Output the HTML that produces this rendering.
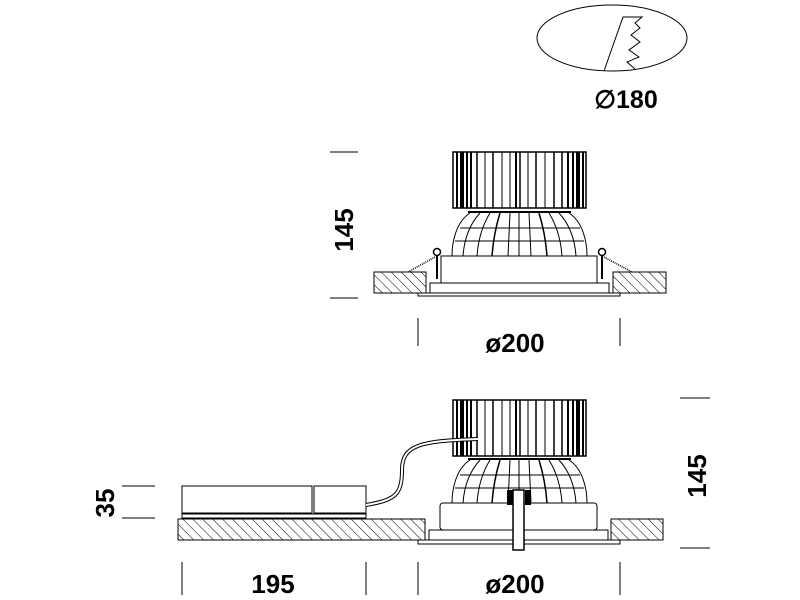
<!DOCTYPE html>
<html><head><style>html,body{margin:0;padding:0;background:#fff}svg{display:block}</style></head>
<body>
<svg width="800" height="600" viewBox="0 0 800 600" xmlns="http://www.w3.org/2000/svg" font-family="Liberation Sans, sans-serif">
<defs>
<pattern id="h" width="7" height="7" patternUnits="userSpaceOnUse" patternTransform="rotate(-45)">
<line x1="0" y1="0" x2="0" y2="7" stroke="#000" stroke-width="1"/>
</pattern>
<g id="sink">
<rect x="453" y="0" width="133" height="56" fill="#fff" stroke="#000" stroke-width="1.5"/>
<g stroke="#000">
<line x1="457" y1="0" x2="457" y2="56" stroke-width="2"/>
<line x1="462" y1="0" x2="462" y2="56" stroke-width="4"/>
<line x1="467" y1="0" x2="467" y2="56" stroke-width="2"/>
<line x1="471" y1="0" x2="471" y2="56" stroke-width="2"/>
<line x1="477" y1="0" x2="477" y2="56" stroke-width="1.5"/>
<line x1="485" y1="0" x2="485" y2="56" stroke-width="1"/>
<line x1="493" y1="0" x2="493" y2="56" stroke-width="1.5"/>
<line x1="502" y1="0" x2="502" y2="56" stroke-width="1"/>
<line x1="510" y1="0" x2="510" y2="56" stroke-width="1"/>
<line x1="516" y1="0" x2="516" y2="56" stroke-width="2"/>
<line x1="520" y1="0" x2="520" y2="56" stroke-width="1.5"/>
<line x1="528" y1="0" x2="528" y2="56" stroke-width="1"/>
<line x1="536" y1="0" x2="536" y2="56" stroke-width="1.5"/>
<line x1="545" y1="0" x2="545" y2="56" stroke-width="1"/>
<line x1="554" y1="0" x2="554" y2="56" stroke-width="1.5"/>
<line x1="562" y1="0" x2="562" y2="56" stroke-width="1.5"/>
<line x1="568" y1="0" x2="568" y2="56" stroke-width="2"/>
<line x1="573" y1="0" x2="573" y2="56" stroke-width="2"/>
<line x1="578" y1="0" x2="578" y2="56" stroke-width="4"/>
<line x1="583" y1="0" x2="583" y2="56" stroke-width="2"/>
</g>
</g>
<g id="dome" fill="none" stroke="#000" stroke-width="1">
<line x1="468" y1="0" x2="571" y2="0" stroke-width="2"/>
<path d="M470,1 C456,10 452,30 452,44 M569,1 C583,10 587,30 587,44"/>
<path d="M480,1 C468,14 464,30 463,44 M559,1 C571,14 575,30 576,44"/>
<path d="M490,1 C482,14 478,30 477,44 M549,1 C557,14 561,30 562,44"/>
<path d="M500,1 C496,14 493,30 492,44 M539,1 C543,14 546,30 547,44" stroke-width="1.5"/>
<path d="M510,1 L508,44 M529,1 L531,44"/>
<line x1="519" y1="1" x2="519" y2="44"/>
<line x1="460" y1="16" x2="580" y2="16"/>
<line x1="455" y1="29" x2="584" y2="29"/>
</g>
</defs>

<!-- top ellipse -->
<ellipse cx="612" cy="38" rx="75" ry="33" fill="none" stroke="#000" stroke-width="1"/>
<path d="M604,71 L623,17 L642,17 L635,23 L640,28 L631,35 L640,42 L629,50 L639,57 L627,62 L635,69" fill="none" stroke="#000" stroke-width="1"/>
<text x="626" y="108" font-size="25" font-weight="bold" text-anchor="middle">∅180</text>

<!-- top lamp -->
<use href="#sink" transform="translate(0,152)"/>
<use href="#dome" transform="translate(0,212)"/>
<rect x="441" y="256" width="156" height="27" fill="#fff" stroke="#000"/>
<rect x="430" y="283" width="179" height="10" fill="#fff" stroke="#000"/>
<rect x="418" y="293" width="202" height="3" fill="#fff" stroke="#000"/>
<rect x="374" y="272" width="52" height="21" fill="url(#h)" stroke="#000"/>
<rect x="613" y="272" width="53" height="21" fill="url(#h)" stroke="#000"/>
<circle cx="437" cy="252" r="3.5" fill="#fff" stroke="#000" stroke-width="1.5"/>
<circle cx="602" cy="252" r="3.5" fill="#fff" stroke="#000" stroke-width="1.5"/>
<line x1="437" y1="256" x2="437" y2="279" stroke="#000" stroke-width="2"/>
<line x1="602" y1="256" x2="602" y2="279" stroke="#000" stroke-width="2"/>
<line x1="435" y1="257" x2="408" y2="272" stroke="#000" stroke-width="1.5" stroke-dasharray="1 1"/>
<line x1="604" y1="257" x2="632" y2="272" stroke="#000" stroke-width="1.5" stroke-dasharray="1 1"/>
<!-- top dims -->
<line x1="330" y1="152" x2="358" y2="152" stroke="#000"/>
<line x1="330" y1="298" x2="358" y2="298" stroke="#000"/>
<text transform="translate(353,230) rotate(-90)" font-size="26" font-weight="bold" text-anchor="middle">145</text>
<line x1="418" y1="318" x2="418" y2="346" stroke="#000"/>
<line x1="620" y1="318" x2="620" y2="346" stroke="#000"/>
<text x="515" y="352" font-size="26" font-weight="bold" text-anchor="middle">ø200</text>

<!-- bottom lamp -->
<use href="#sink" transform="translate(0,400)"/>
<use href="#dome" transform="translate(0,459)"/>
<rect x="440" y="503" width="157" height="27" rx="3" fill="#fff" stroke="#000"/>
<rect x="429" y="530" width="179" height="10" fill="#fff" stroke="#000"/>
<rect x="418" y="540" width="202" height="4" fill="#fff" stroke="#000"/>
<rect x="178" y="519" width="247" height="21" fill="url(#h)" stroke="#000"/>
<rect x="611" y="519" width="52" height="21" fill="url(#h)" stroke="#000"/>
<rect x="507" y="490" width="6" height="15" fill="#000"/>
<rect x="525" y="490" width="6" height="15" fill="#000"/>
<rect x="513" y="490" width="11" height="60" fill="#fff" stroke="#000" stroke-width="1.5"/>
<!-- driver -->
<rect x="182" y="486" width="130" height="27" fill="#fff" stroke="#000"/>
<rect x="314" y="486" width="52" height="27" fill="#fff" stroke="#000"/>
<rect x="182" y="514" width="184" height="4" fill="#fff" stroke="#000"/>
<path d="M366,505 C395,500 402,495 402,470 C402,445 420,441 478,439" fill="none" stroke="#000" stroke-width="4"/>
<path d="M366,505 C395,500 402,495 402,470 C402,445 420,441 478,439" fill="none" stroke="#fff" stroke-width="2"/>
<!-- bottom dims -->
<line x1="680" y1="398" x2="710" y2="398" stroke="#000"/>
<line x1="680" y1="548" x2="710" y2="548" stroke="#000"/>
<text transform="translate(706,476) rotate(-90)" font-size="26" font-weight="bold" text-anchor="middle">145</text>
<line x1="122" y1="486" x2="155" y2="486" stroke="#000"/>
<line x1="122" y1="518" x2="155" y2="518" stroke="#000"/>
<text transform="translate(114,503) rotate(-90)" font-size="26" font-weight="bold" text-anchor="middle">35</text>
<line x1="182" y1="562" x2="182" y2="595" stroke="#000"/>
<line x1="366" y1="562" x2="366" y2="595" stroke="#000"/>
<text x="273" y="593" font-size="26" font-weight="bold" text-anchor="middle">195</text>
<line x1="418" y1="562" x2="418" y2="595" stroke="#000"/>
<line x1="620" y1="562" x2="620" y2="595" stroke="#000"/>
<text x="515" y="593" font-size="26" font-weight="bold" text-anchor="middle">ø200</text>
</svg>
</body></html>
